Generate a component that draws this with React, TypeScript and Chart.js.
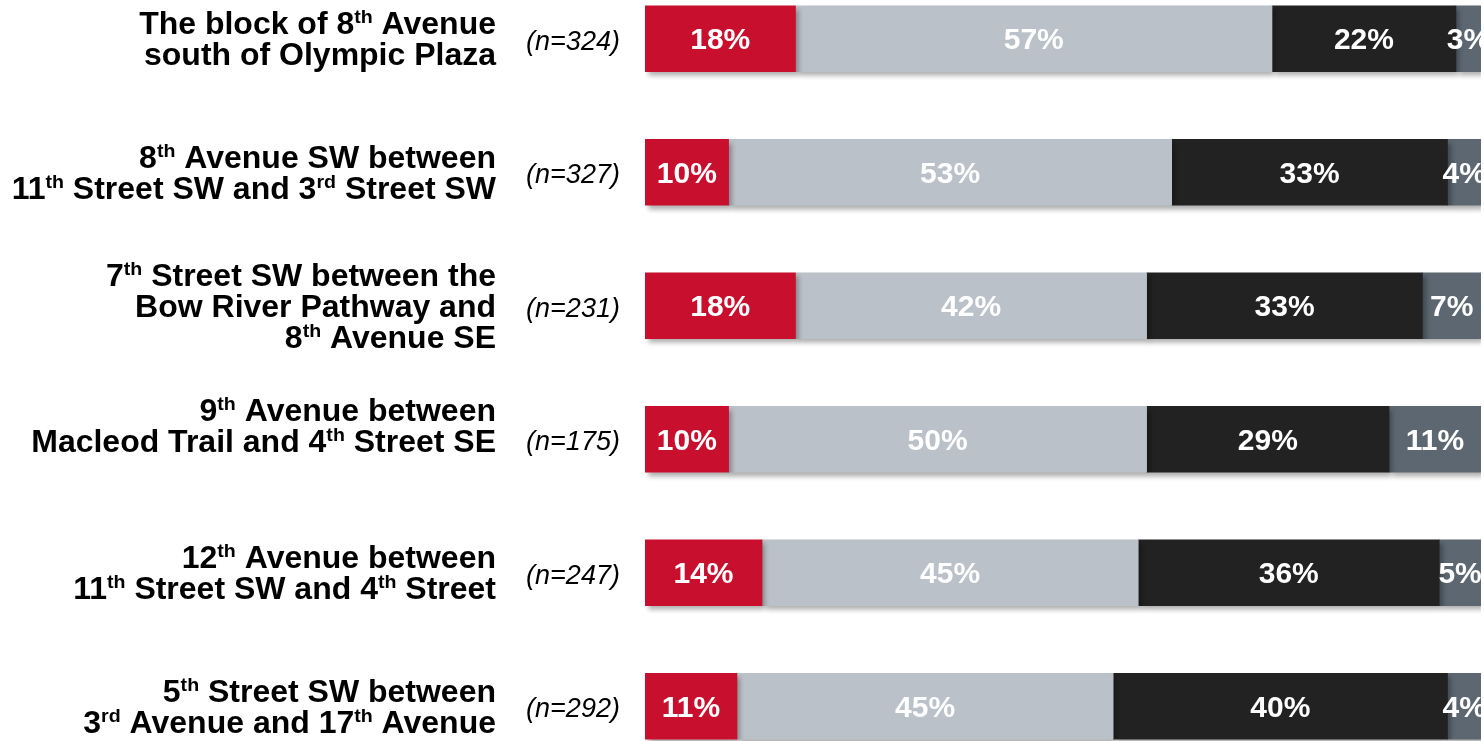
import { useEffect, useRef } from 'react';
import { Chart, registerables } from 'chart.js';

Chart.register(...registerables);

// ---- data ----
const categories: string[][] = [
  ['The block of 8{th} Avenue', 'south of Olympic Plaza'],
  ['8{th} Avenue SW between', '11{th} Street SW and 3{rd} Street SW'],
  ['7{th} Street SW between the', 'Bow River Pathway and', '8{th} Avenue SE'],
  ['9{th} Avenue between', 'Macleod Trail and 4{th} Street SE'],
  ['12{th} Avenue between', '11{th} Street SW and 4{th} Street'],
  ['5{th} Street SW between', '3{rd} Avenue and 17{th} Avenue'],
];
const sampleSizes = [324, 327, 231, 175, 247, 292];
const seriesRed = [18, 10, 18, 10, 14, 11];
const seriesLightGray = [57, 53, 42, 50, 45, 45];
const seriesBlack = [22, 33, 33, 29, 36, 40];
const seriesSlate = [3, 4, 7, 11, 5, 4];

// ---- layout / style ----
const FONT = '"Liberation Sans", Arial, sans-serif';
const COLORS = ['#c8102e', '#bac1c8', '#222222', '#5c6771'];
const LABEL_RIGHT = 496;
const N_CENTER = 573;
const LINE_H = 31;
const MAIN_PX = 31;
const SUP_PX = 19;
const LABEL_SX = 1.032;
const LABEL_NUDGE = [0, 0, 0, -14, 0, 0];

type Seg = { text: string; sup: boolean };
function parseLine(line: string): Seg[] {
  const out: Seg[] = [];
  const re = /\{([^}]*)\}/g;
  let last = 0;
  let m: RegExpExecArray | null;
  while ((m = re.exec(line))) {
    if (m.index > last) out.push({ text: line.slice(last, m.index), sup: false });
    out.push({ text: m[1], sup: true });
    last = m.index + m[0].length;
  }
  if (last < line.length) out.push({ text: line.slice(last), sup: false });
  return out;
}

const shadowPlugin = {
  id: 'barShadow',
  beforeDatasetsDraw(chart: any) {
    const ctx = chart.ctx;
    ctx.save();
    ctx.shadowColor = 'rgba(0,0,0,0.32)';
    ctx.shadowBlur = 5;
    ctx.shadowOffsetX = 3;
    ctx.shadowOffsetY = 4;
  },
  afterDatasetsDraw(chart: any) {
    chart.ctx.restore();
  },
};

const textPlugin = {
  id: 'texts',
  afterDraw(chart: any) {
    const ctx: CanvasRenderingContext2D = chart.ctx;
    const yScale = chart.scales.y;
    ctx.save();
    ctx.shadowColor = 'transparent';
    // value labels
    ctx.fillStyle = '#ffffff';
    ctx.font = `bold 30px ${FONT}`;
    ctx.textAlign = 'center';
    ctx.textBaseline = 'alphabetic';
    chart.data.datasets.forEach((ds: any, di: number) => {
      const meta = chart.getDatasetMeta(di);
      meta.data.forEach((el: any, i: number) => {
        const cx = (el.x + el.base) / 2;
        ctx.fillText(`${ds.data[i]}%`, cx, el.y + 10.7);
      });
    });
    // category labels
    ctx.fillStyle = '#000000';
    ctx.textAlign = 'left';
    categories.forEach((lines, i) => {
      const yc = yScale.getPixelForValue(i) + LABEL_NUDGE[i];
      const capH = MAIN_PX * 0.716;
      const base1 = yc + capH / 2 - ((lines.length - 1) * LINE_H) / 2;
      lines.forEach((line, li) => {
        const segs = parseLine(line);
        let total = 0;
        const widths = segs.map((s) => {
          ctx.font = s.sup ? `bold ${SUP_PX}px ${FONT}` : `bold ${MAIN_PX}px ${FONT}`;
          const w = ctx.measureText(s.text).width * LABEL_SX;
          total += w;
          return w;
        });
        let x = LABEL_RIGHT - total;
        const by = base1 + li * LINE_H;
        segs.forEach((s, si) => {
          ctx.font = s.sup ? `bold ${SUP_PX}px ${FONT}` : `bold ${MAIN_PX}px ${FONT}`;
          ctx.save();
          ctx.translate(x, s.sup ? by - 11 : by);
          ctx.scale(LABEL_SX, 1);
          ctx.fillText(s.text, 0, 0);
          ctx.restore();
          x += widths[si];
        });
      });
      // sample size
      const yn = yScale.getPixelForValue(i);
      ctx.font = `italic 27px ${FONT}`;
      ctx.textAlign = 'center';
      ctx.fillText(`(n=${sampleSizes[i]})`, N_CENTER, yn + 11);
      ctx.textAlign = 'left';
    });
    ctx.restore();
  },
};

export default function App() {
  const ref = useRef<HTMLCanvasElement>(null);
  useEffect(() => {
    const chart = new Chart(ref.current as HTMLCanvasElement, {
      type: 'bar',
      data: {
        labels: categories.map((c) => c.join(' ')),
        datasets: [seriesRed, seriesLightGray, seriesBlack, seriesSlate].map((d, k) => ({
          data: d,
          backgroundColor: COLORS[k],
          borderWidth: 0,
          barThickness: 66,
        })),
      },
      options: {
        indexAxis: 'y',
        responsive: false,
        animation: false,
        devicePixelRatio: 1,
        layout: { padding: { left: 645, right: 3, top: 0, bottom: 0 } },
        plugins: { legend: { display: false }, tooltip: { enabled: false } },
        scales: {
          x: { stacked: true, min: 0, max: 100, display: false },
          y: { stacked: true, display: false },
        },
      },
      plugins: [shadowPlugin, textPlugin],
    } as any);
    return () => chart.destroy();
  }, []);
  return (
    <div
      style={{
        position: 'fixed',
        left: 0,
        top: 0,
        width: 1484,
        height: 741,
        overflow: 'hidden',
        background: '#ffffff',
      }}
    >
      <canvas
        ref={ref}
        width={1484}
        height={801}
        style={{ position: 'absolute', left: 0, top: -28, width: 1484, height: 801 }}
      />
    </div>
  );
}
